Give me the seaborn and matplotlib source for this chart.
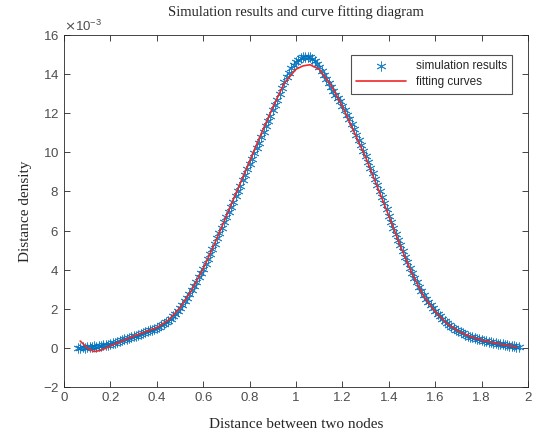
import numpy as np
import pandas as pd
import matplotlib
matplotlib.use("Agg")
import matplotlib.pyplot as plt
import seaborn as sns

# simulated distance density (x 1e-3), sampled every 0.01 from 0.06 to 1.96
sim_density_e3 = [
    0.00, 0.01, 0.03, 0.02, 0.05, 0.06, 0.05, 0.08, 0.07, 0.10,
    0.11, 0.13, 0.15, 0.17, 0.20, 0.23, 0.26, 0.31, 0.34, 0.39,
    0.43, 0.47, 0.52, 0.55, 0.60, 0.63, 0.68, 0.72, 0.76, 0.80,
    0.84, 0.89, 0.93, 0.98, 1.03, 1.09, 1.15, 1.22, 1.30, 1.40,
    1.50, 1.62, 1.75, 1.89, 2.05, 2.20, 2.38, 2.56, 2.75, 2.95,
    3.15, 3.38, 3.60, 3.82, 4.05, 4.30, 4.55, 4.80, 5.05, 5.33,
    5.60, 5.87, 6.15, 6.42, 6.70, 6.95, 7.20, 7.48, 7.75, 8.03,
    8.30, 8.58, 8.85, 9.13, 9.40, 9.68, 9.95, 10.22, 10.50, 10.78,
    11.05, 11.33, 11.60, 11.88, 12.15, 12.43, 12.70, 13.00, 13.30, 13.58,
    13.85, 14.08, 14.30, 14.47, 14.60, 14.72, 14.80, 14.87, 14.90, 14.90,
    14.86, 14.78, 14.66, 14.52, 14.35, 14.17, 13.97, 13.76, 13.55, 13.35,
    13.15, 12.95, 12.80, 12.60, 12.38, 12.15, 11.92, 11.68, 11.43, 11.17,
    10.91, 10.64, 10.37, 10.09, 9.81, 9.52, 9.22, 8.92, 8.62, 8.31,
    8.00, 7.70, 7.39, 7.08, 6.77, 6.46, 6.15, 5.84, 5.54, 5.24,
    4.94, 4.65, 4.37, 4.10, 3.84, 3.59, 3.35, 3.12, 2.90, 2.70,
    2.51, 2.33, 2.17, 2.02, 1.87, 1.74, 1.61, 1.49, 1.38, 1.28,
    1.18, 1.09, 1.01, 0.93, 0.86, 0.80, 0.74, 0.68, 0.63, 0.58,
    0.54, 0.50, 0.46, 0.43, 0.40, 0.37, 0.34, 0.31, 0.29, 0.26,
    0.24, 0.22, 0.20, 0.18, 0.16, 0.14, 0.12, 0.10, 0.08, 0.06,
    0.05,
]
sim_distance = np.linspace(0.06, 1.96, len(sim_density_e3))

fit_distance = [0.07, 0.10, 0.13, 0.16, 0.20, 0.25, 0.30, 0.35, 0.40, 0.45,
                0.50, 0.55, 0.60, 0.65, 0.70, 0.75, 0.80, 0.85, 0.90, 0.95,
                1.00, 1.03, 1.06, 1.10, 1.15, 1.20, 1.25, 1.30, 1.35, 1.40,
                1.45, 1.50, 1.55, 1.60, 1.65, 1.70, 1.75, 1.80, 1.85, 1.90, 1.95]
fit_density_e3 = [0.35, 0.00, -0.19, -0.12, 0.10, 0.35, 0.60, 0.82, 1.03, 1.42,
                  2.05, 2.95, 4.05, 5.35, 6.75, 8.15, 9.55, 10.95, 12.30, 13.55,
                  14.25, 14.42, 14.48, 14.25, 13.45, 12.35, 11.05, 9.75, 8.25, 6.75,
                  5.20, 3.80, 2.65, 1.85, 1.25, 0.85, 0.58, 0.40, 0.27, 0.15, 0.05]

sim = pd.DataFrame({"distance": sim_distance, "density": np.array(sim_density_e3) * 1e-3})
fit = pd.DataFrame({"distance": fit_distance, "density": np.array(fit_density_e3) * 1e-3})

sns.set_theme(style="white")
plt.rcParams["font.family"] = ["Liberation Sans", "DejaVu Sans"]
plt.rcParams["axes.unicode_minus"] = False

fig = plt.figure(figsize=(5.39, 4.37), dpi=100)
ax = fig.add_axes([0.1187, 0.1144, 0.861, 0.8055])

sns.scatterplot(data=sim, x="distance", y="density", ax=ax, marker=(6, 2, 0),
                s=45, color="#0072BD", linewidth=0.6, alpha=0.85,
                label="simulation results")
sns.lineplot(data=fit, x="distance", y="density", ax=ax, color="#f02828",
             linewidth=1.2, label="fitting curves")

ax.set_xlim(0, 2)
ax.set_ylim(-0.002, 0.016)
ax.set_xticks(np.arange(0, 2.01, 0.2))
ax.set_yticks(np.arange(-0.002, 0.0161, 0.002))
ax.ticklabel_format(axis="y", style="sci", scilimits=(-3, -3), useMathText=True)
ax.xaxis.set_major_formatter(matplotlib.ticker.FuncFormatter(lambda v, p: f"{v:g}"))

ax.tick_params(direction="in", length=4, width=0.6, colors="#262626",
               labelcolor="#4d4d4d", labelsize=9.5, top=True, right=True,
               bottom=True, left=True)
ax.yaxis.get_offset_text().set_fontsize(9.5)
ax.yaxis.get_offset_text().set_color("#4d4d4d")
for sp in ax.spines.values():
    sp.set_color("#262626")
    sp.set_linewidth(0.6)

serif = ["Liberation Serif", "DejaVu Serif"]
ax.set_title("Simulation results and curve fitting diagram", family=serif,
             fontsize=10.5, pad=14)
ax.set_xlabel("Distance between two nodes", family=serif, fontsize=11, labelpad=10)
ax.set_ylabel("Distance density", family=serif, fontsize=11, labelpad=8)

leg = ax.legend(loc="upper right", bbox_to_anchor=(0.978, 0.96), fontsize=8.5,
                frameon=True, fancybox=False, edgecolor="#262626",
                borderpad=0.45, handlelength=4.2, labelspacing=0.35)
leg.get_frame().set_linewidth(0.8)

fig.savefig("out.png", dpi=100)
